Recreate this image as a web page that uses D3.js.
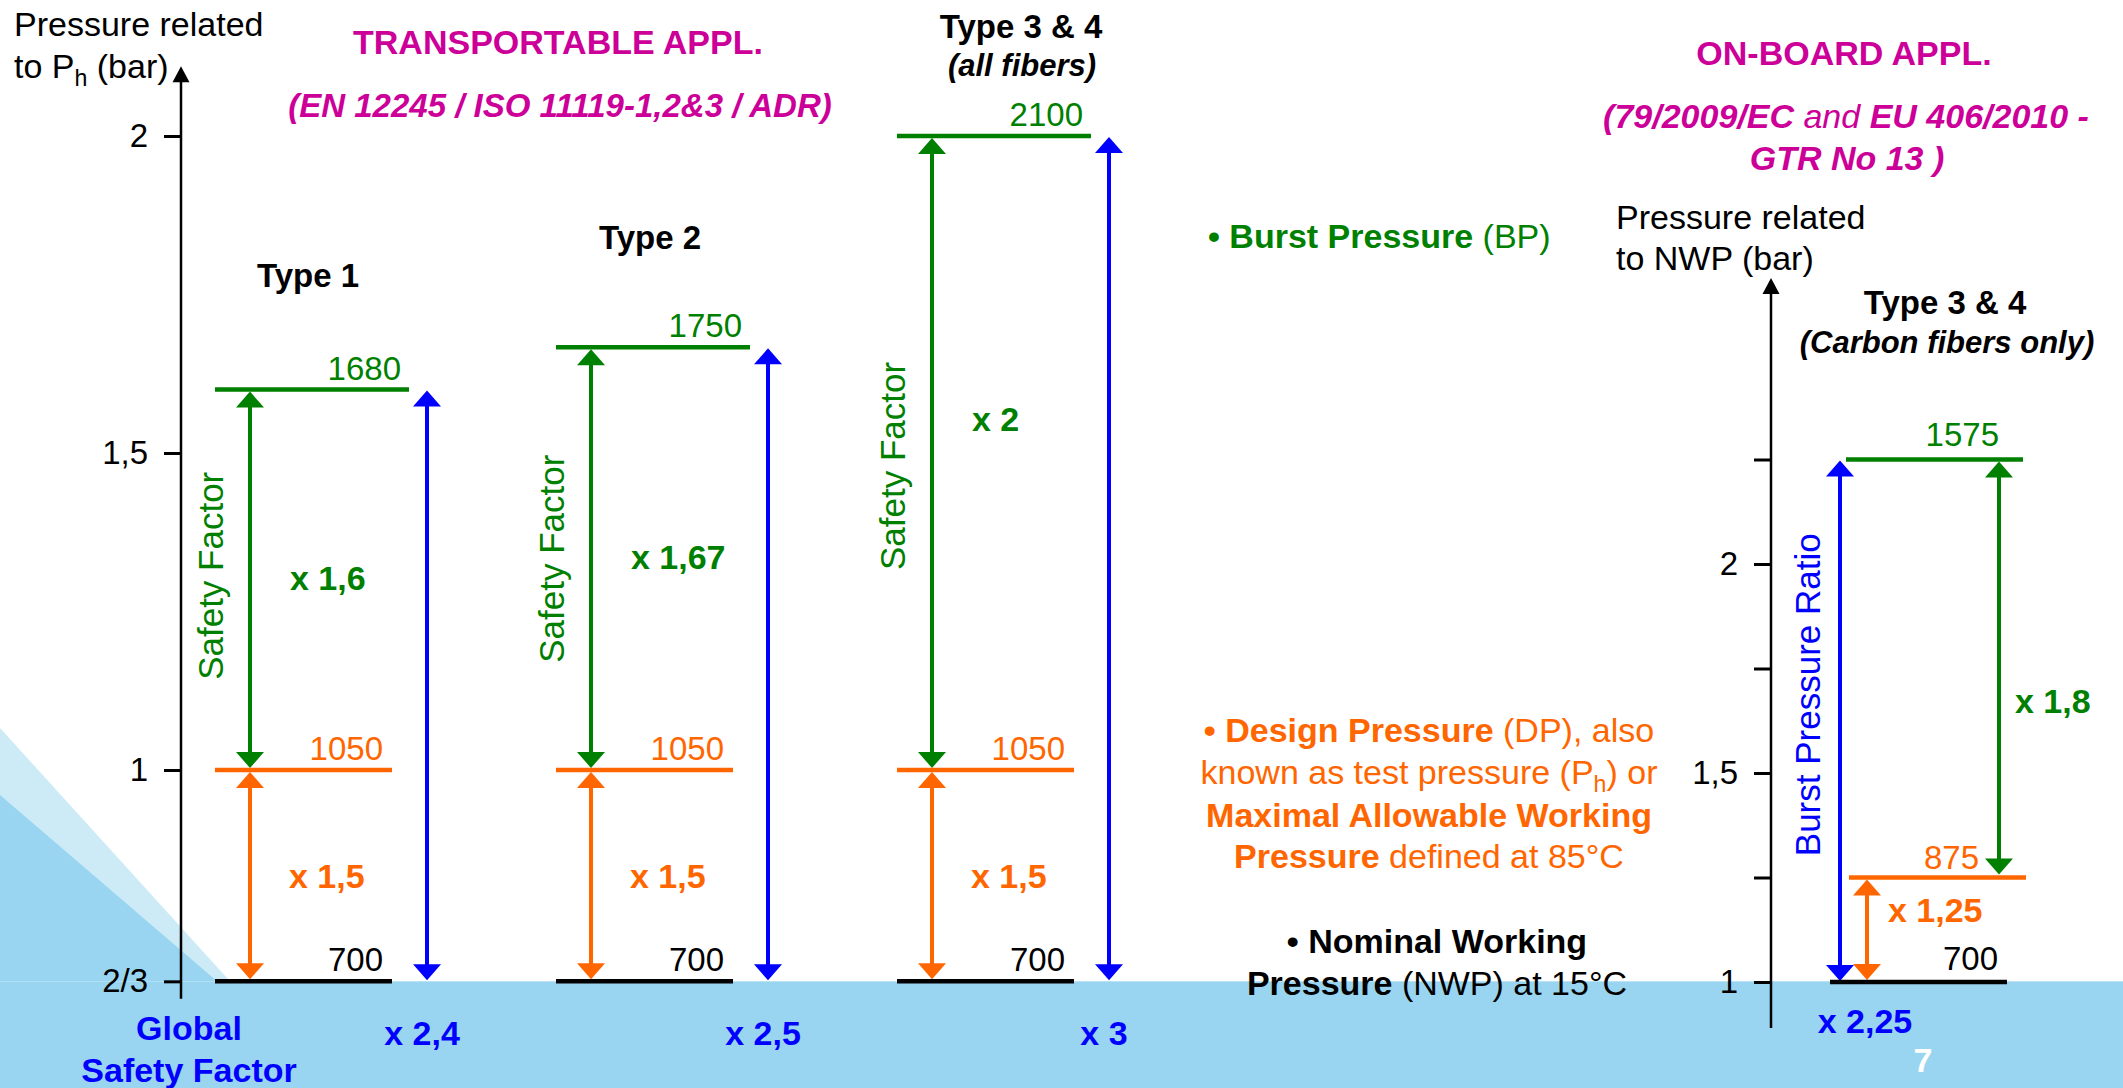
<!DOCTYPE html>
<html>
<head>
<meta charset="utf-8">
<script src="https://cdn.jsdelivr.net/npm/d3@7"></script>
<style>
  html, body { margin: 0; padding: 0; background: #ffffff; }
  svg { display: block; }
</style>
</head>
<body>
<svg id="chart" width="2123" height="1088"></svg>
<script>
// ---------- data ----------
// Transportable applications: pressures in bar, related to test pressure Ph
const leftTypes = ["Type 1", "Type 2", "Type 3 & 4"];
const leftTypeNotes = ["", "", "(all fibers)"];
const leftNominal = [700, 700, 700];
const leftDesign = [1050, 1050, 1050];
const leftBurst = [1680, 1750, 2100];
const leftSafetyLabels = ["x 1,6", "x 1,67", "x 2"];
const leftTestLabels = ["x 1,5", "x 1,5", "x 1,5"];
const leftGlobalLabels = ["x 2,4", "x 2,5", "x 3"];
const leftTicks = [2 / 3, 1, 1.5, 2];
const leftTickLabels = ["2/3", "1", "1,5", "2"];

// On-board applications: pressures in bar, related to NWP
const boardTypes = ["Type 3 & 4"];
const boardNote = "(Carbon fibers only)";
const boardNominal = [700];
const boardDesign = [875];
const boardBurst = [1575];
const boardTestLabels = ["x 1,25"];
const boardBurstLabels = ["x 1,8"];
const boardRatioLabels = ["x 2,25"];
const rightTicks = [1, 1.25, 1.5, 1.75, 2, 2.25];
const rightTickLabels = ["1", "", "1,5", "", "2", ""];

// ---------- style ----------
const FONT = "'Liberation Sans', Arial, Helvetica, sans-serif";
const GREEN = "#008000", ORANGE = "#FF6600", BLUE = "#0000FF",
      MAGENTA = "#CC0099", SKY = "#99D5F0", SKY_LIGHT = "#CDEAF7";

const svg = d3.select("#chart").style("font-family", FONT);

// ---------- scales ----------
const yL = d3.scaleLinear().domain([1, 2]).range([770, 136]);
const yR = d3.scaleLinear().domain([1, 2]).range([982, 564]);
const xL = d3.scaleBand().domain(leftTypes).range([215, 215 + 341 * 3]);
const xR = d3.scaleBand().domain(boardTypes).range([1830, 2007]);

// ---------- helpers ----------
function txt(g, x, y, segments, o = {}) {
  const t = g.append("text")
    .attr("x", x).attr("y", y)
    .attr("font-size", o.size || 34)
    .attr("fill", o.fill || "#000")
    .attr("text-anchor", o.anchor || "start");
  if (o.transform) t.attr("transform", o.transform);
  if (typeof segments === "string") segments = [{ t: segments }];
  const base = o.size || 34;
  segments.forEach(s => {
    const sp = t.append("tspan").text(s.t)
      .attr("font-weight", s.b || o.bold ? "bold" : "normal")
      .attr("font-style", s.i !== undefined ? (s.i ? "italic" : "normal") : (o.italic ? "italic" : "normal"));
    if (s.sub) sp.attr("font-size", base * 0.68).attr("dy", base * 0.24);
    if (s.after) sp.attr("dy", -base * 0.24);
  });
  return t;
}

function hLine(g, x1, x2, y, color) {
  g.append("line").attr("x1", x1).attr("x2", x2).attr("y1", y).attr("y2", y)
    .attr("stroke", color).attr("stroke-width", 4.5);
}

function vArrow(g, x, yTop, yBot, color, headTop = true, headBot = true) {
  const hw = 14, hh = 16;
  g.append("line").attr("x1", x).attr("x2", x)
    .attr("y1", headTop ? yTop + hh - 1 : yTop)
    .attr("y2", headBot ? yBot - hh + 1 : yBot)
    .attr("stroke", color).attr("stroke-width", 4);
  if (headTop) g.append("path")
    .attr("d", `M${x},${yTop}L${x - hw},${yTop + hh}L${x + hw},${yTop + hh}Z`).attr("fill", color);
  if (headBot) g.append("path")
    .attr("d", `M${x},${yBot}L${x - hw},${yBot - hh}L${x + hw},${yBot - hh}Z`).attr("fill", color);
}

// ---------- background ----------
const bandTop = yL(leftTicks[0]);
const bg = svg.append("g");
bg.append("polygon").attr("points", `0,728 230,${bandTop} 0,${bandTop}`).attr("fill", SKY_LIGHT);
bg.append("polygon").attr("points", `0,795 217,${bandTop} 0,${bandTop}`).attr("fill", SKY);
bg.append("rect").attr("x", 0).attr("y", bandTop).attr("width", 2123).attr("height", 1088 - bandTop).attr("fill", SKY);

// ---------- axes ----------
function drawAxis(x, scale, ticks, labels, extent) {
  const g = svg.append("g").attr("transform", `translate(${x},0)`);
  g.call(d3.axisLeft(scale).tickValues(ticks)
    .tickFormat((d, i) => labels[i]).tickSize(17).tickPadding(16).tickSizeOuter(0));
  g.select(".domain").remove();
  g.selectAll(".tick line").attr("stroke", "#000").attr("stroke-width", 3);
  g.selectAll(".tick text").attr("font-size", 33).attr("font-family", FONT).attr("fill", "#000");
  const tip = scale(extent[1]);
  g.append("line").attr("x1", 0).attr("x2", 0)
    .attr("y1", scale(extent[0])).attr("y2", tip + 14)
    .attr("stroke", "#000").attr("stroke-width", 2.5);
  g.append("path").attr("d", `M0,${tip}L-8.5,${tip + 16}L8.5,${tip + 16}Z`).attr("fill", "#000");
}
drawAxis(181, yL, leftTicks, leftTickLabels, [0.639, 2.11]);
drawAxis(1771, yR, rightTicks, rightTickLabels, [0.89, 2.684]);

// axis titles
const titles = svg.append("g");
txt(titles, 14, 36, "Pressure related", { size: 34 });
txt(titles, 14, 78, [{ t: "to P" }, { t: "h", sub: true }, { t: " (bar)", after: true }], { size: 34 });
txt(titles, 1616, 229, "Pressure related", { size: 34 });
txt(titles, 1616, 270, "to NWP (bar)", { size: 34 });

// headings
txt(titles, 558, 54, "TRANSPORTABLE APPL.", { size: 34, bold: true, fill: MAGENTA, anchor: "middle" });
txt(titles, 560, 117, "(EN 12245 / ISO 11119-1,2&3 / ADR)", { size: 33, bold: true, italic: true, fill: MAGENTA, anchor: "middle" });
txt(titles, 1844, 65, "ON-BOARD APPL.", { size: 34, bold: true, fill: MAGENTA, anchor: "middle" });
txt(titles, 1846, 128, [{ t: "(79/2009/EC ", b: true, i: true }, { t: "and ", i: true }, { t: "EU 406/2010 -", b: true, i: true }],
  { size: 34, fill: MAGENTA, anchor: "middle" });
txt(titles, 1847, 170, "GTR No 13 )", { size: 34, bold: true, italic: true, fill: MAGENTA, anchor: "middle" });

// ---------- transportable types ----------
const titleDx = [93, 94, 124];
const titleDy = [-5, 0, 0];
const safetyShift = [0, 0, -32];
const rotatedShift = [-4, 0, 13];
const LW = 177, GW = 194;
const left = svg.append("g");
leftTypes.forEach((type, i) => {
  const x0 = xL(type);
  const ref = leftDesign[i];
  const yN = yL(leftNominal[i] / ref), yD = yL(leftDesign[i] / ref), yB = yL(leftBurst[i] / ref);

  vArrow(left, x0 + 35, yB + 2, yD - 2, GREEN);
  vArrow(left, x0 + 35, yD + 2, yN - 2, ORANGE);
  vArrow(left, x0 + 212, yB + 1, yN - 1, BLUE);

  hLine(left, x0, x0 + GW, yB, GREEN);
  hLine(left, x0, x0 + LW, yD, ORANGE);
  hLine(left, x0, x0 + LW, yN, "#000");

  txt(left, x0 + GW - 8, yB - 10, String(leftBurst[i]), { size: 33, fill: GREEN, anchor: "end" });
  txt(left, x0 + LW - 9, yD - 10, String(leftDesign[i]), { size: 33, fill: ORANGE, anchor: "end" });
  txt(left, x0 + LW - 9, yN - 10, String(leftNominal[i]), { size: 33, fill: "#000", anchor: "end" });

  txt(left, 0, 0, "Safety Factor", {
    size: 35, fill: GREEN, anchor: "middle",
    transform: `translate(${x0 + 8},${(yB + yD) / 2 + rotatedShift[i]}) rotate(-90)`
  });

  txt(left, x0 + 75, (yB + yD) / 2 + 10 + safetyShift[i], leftSafetyLabels[i], { size: 34, bold: true, fill: GREEN });
  txt(left, x0 + 74, (yD + yN) / 2 + 12, leftTestLabels[i], { size: 34, bold: true, fill: ORANGE });
  txt(left, x0 + 207, yN + 64, leftGlobalLabels[i], { size: 34, bold: true, fill: BLUE, anchor: "middle" });

  txt(left, x0 + titleDx[i], yB - 98 + titleDy[i], type, { size: 33, bold: true, anchor: "middle" });
  if (leftTypeNotes[i]) txt(left, x0 + titleDx[i] + 1, yB - 60, leftTypeNotes[i], { size: 31, bold: true, italic: true, anchor: "middle" });
});

txt(left, 189, 1040, "Global", { size: 34, bold: true, fill: BLUE, anchor: "middle" });
txt(left, 189, 1082, "Safety Factor", { size: 34, bold: true, fill: BLUE, anchor: "middle" });

// ---------- legend ----------
const legend = svg.append("g");
txt(legend, 1208, 248, [{ t: "• Burst Pressure ", b: true }, { t: "(BP)" }], { size: 34, fill: GREEN });
txt(legend, 1429, 742, [{ t: "• Design Pressure ", b: true }, { t: "(DP), also" }], { size: 34, fill: ORANGE, anchor: "middle" });
txt(legend, 1429, 784, [{ t: "known as test pressure (P" }, { t: "h", sub: true }, { t: ") or", after: true }], { size: 34, fill: ORANGE, anchor: "middle" });
txt(legend, 1429, 827, "Maximal Allowable Working", { size: 34, bold: true, fill: ORANGE, anchor: "middle" });
txt(legend, 1429, 868, [{ t: "Pressure", b: true }, { t: " defined at 85°C" }], { size: 34, fill: ORANGE, anchor: "middle" });
txt(legend, 1437, 953, "• Nominal Working", { size: 34, bold: true, fill: "#000", anchor: "middle" });
txt(legend, 1437, 995, [{ t: "Pressure", b: true }, { t: " (NWP) at 15°C" }], { size: 34, fill: "#000", anchor: "middle" });

// ---------- on-board type ----------
const right = svg.append("g");
boardTypes.forEach((type, i) => {
  const x0 = xR(type);
  const ref = boardNominal[i];
  const yN = yR(boardNominal[i] / ref), yD = yR(boardDesign[i] / ref), yB = yR(boardBurst[i] / ref);
  const xBlue = x0 + 10, xOrange = x0 + 37, xGreen = x0 + 169;

  vArrow(right, xBlue, yB + 1, yN - 1, BLUE);
  vArrow(right, xOrange, yD + 2, yN - 2, ORANGE);
  vArrow(right, xGreen, yB + 2, yD - 3, GREEN);

  hLine(right, x0 + 16, x0 + 16 + LW, yB, GREEN);
  hLine(right, x0 + 19, x0 + 19 + LW, yD, ORANGE);
  hLine(right, x0, x0 + LW, yN, "#000");

  txt(right, xGreen, yB - 14, String(boardBurst[i]), { size: 33, fill: GREEN, anchor: "end" });
  txt(right, xGreen - 20, yD - 9, String(boardDesign[i]), { size: 33, fill: ORANGE, anchor: "end" });
  txt(right, x0 + LW - 9, yN - 12, String(boardNominal[i]), { size: 33, fill: "#000", anchor: "end" });

  txt(right, 0, 0, "Burst Pressure Ratio", {
    size: 35, fill: BLUE, anchor: "middle",
    transform: `translate(${xBlue - 20},${(yB + yN) / 2 - 26}) rotate(-90)`
  });

  txt(right, xGreen + 16, (yB + yD) / 2 + 44, boardBurstLabels[i], { size: 34, bold: true, fill: GREEN });
  txt(right, xOrange + 21, (yD + yN) / 2 - 8, boardTestLabels[i], { size: 34, bold: true, fill: ORANGE });
  txt(right, xBlue + 25, yN + 51, boardRatioLabels[i], { size: 34, bold: true, fill: BLUE, anchor: "middle" });

  txt(right, x0 + 115, yB - 146, type, { size: 33, bold: true, anchor: "middle" });
  txt(right, x0 + 117, yB - 107, boardNote, { size: 31, bold: true, italic: true, anchor: "middle" });
});

// page number
txt(svg, 1923, 1072, "7", { size: 34, bold: true, fill: "#ffffff", anchor: "middle" });
</script>
</body>
</html>
